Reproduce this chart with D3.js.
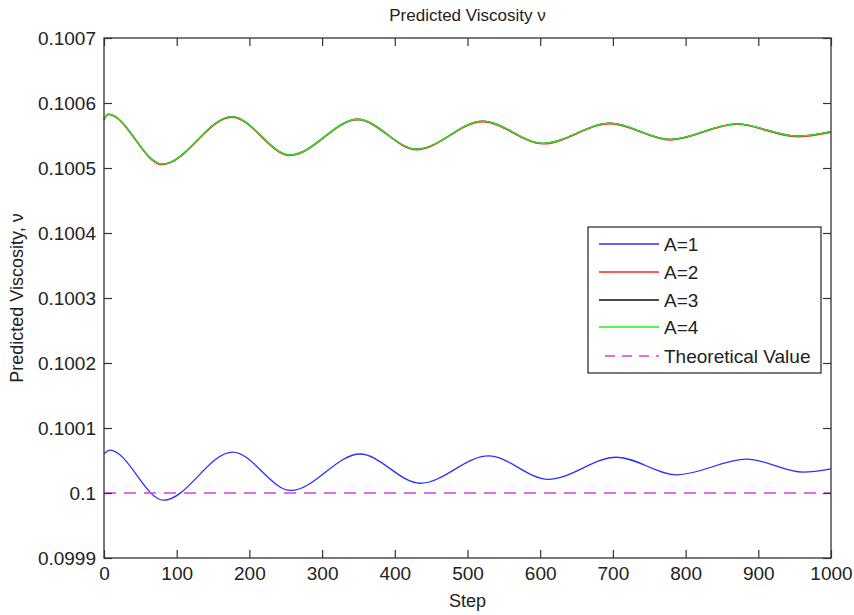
<!DOCTYPE html>
<html>
<head>
<meta charset="utf-8">
<script src="https://cdn.jsdelivr.net/npm/d3@7"></script>
<style>
  body { margin: 0; background: #fff; }
  text { font-family: "Liberation Sans", Arial, sans-serif; fill: #222; }
</style>
</head>
<body>
<div id="chart"></div>
<script>
// steps at peaks / troughs
const stepsA1 = [0, 8, 82, 177, 257, 352, 435, 529, 611, 705, 788, 884, 962, 1000];
const valuesA1 = [0.100060, 0.100066, 0.099989, 0.100063, 0.100004, 0.100060, 0.100015,
  0.100057, 0.100021, 0.100055, 0.100028, 0.100052, 0.100032, 0.100037];

const stepsA4 = [0, 6, 80, 176, 256, 349, 430, 521, 604, 696, 779, 870, 953, 1000];
const valuesA4 = [0.100575, 0.100583, 0.100506, 0.100579, 0.100520, 0.100575, 0.100529,
  0.100572, 0.100538, 0.100569, 0.100544, 0.100568, 0.100549, 0.100556];
// A=2 and A=3 sit right under A=4
const valuesA2 = [0.100574, 0.100582, 0.100505, 0.100578, 0.100519, 0.100574, 0.100528,
  0.100571, 0.100537, 0.100568, 0.100543, 0.100567, 0.100548, 0.100555];
const valuesA3 = valuesA4.slice();

const theoretical = 0.1;

const yTicks = [0.0999, 0.1, 0.1001, 0.1002, 0.1003, 0.1004, 0.1005, 0.1006, 0.1007];
const yTickLabels = ["0.0999", "0.1", "0.1001", "0.1002", "0.1003", "0.1004", "0.1005", "0.1006", "0.1007"];
const xTicks = [0, 100, 200, 300, 400, 500, 600, 700, 800, 900, 1000];

const series = [
  { name: "A=1", steps: stepsA1, values: valuesA1, color: "#2e2eff" },
  { name: "A=2", steps: stepsA4, values: valuesA2, color: "#ff2222" },
  { name: "A=3", steps: stepsA4, values: valuesA3, color: "#111111" },
  { name: "A=4", steps: stepsA4, values: valuesA4, color: "#22ee22" }
];

const width = 854, height = 615;
const margin = { left: 104, right: 23, top: 38, bottom: 57 };

const svg = d3.select("#chart").append("svg")
  .attr("width", width)
  .attr("height", height);

const x = d3.scaleLinear().domain([0, 1000]).range([margin.left, width - margin.right]);
const y = d3.scaleLinear().domain([0.0999, 0.1007]).range([height - margin.bottom, margin.top]);

// data lines
const line = d3.line()
  .x(d => x(d[0]))
  .y(d => y(d[1]))
  .curve(d3.curveMonotoneX);

// draw A=3 first so the others cover it, like the original
[series[2], series[1], series[3], series[0]].forEach(s => {
  svg.append("path")
    .datum(s.steps.map((st, i) => [st, s.values[i]]))
    .attr("d", line)
    .attr("fill", "none")
    .attr("stroke", s.color)
    .attr("stroke-width", 1.3);
});

svg.append("line")
  .attr("x1", x(0)).attr("x2", x(1000))
  .attr("y1", y(theoretical)).attr("y2", y(theoretical))
  .attr("stroke", "#cc44dd")
  .attr("stroke-width", 1.4)
  .attr("stroke-dasharray", "12,8");

// axes, ticks inside on all four sides
const tickLen = 8;
const axisColor = "#333";

svg.append("g")
  .attr("transform", `translate(0,${y(0.0999)})`)
  .call(d3.axisBottom(x).tickValues(xTicks).tickSize(-tickLen).tickPadding(9).tickFormat(d3.format("d")))
  .call(g => g.select(".domain").remove());

svg.append("g")
  .attr("transform", `translate(0,${y(0.1007)})`)
  .call(d3.axisTop(x).tickValues(xTicks).tickSize(-tickLen).tickFormat(""))
  .call(g => g.select(".domain").remove());

svg.append("g")
  .attr("transform", `translate(${x(0)},0)`)
  .call(d3.axisLeft(y).tickValues(yTicks).tickSize(-tickLen).tickPadding(8)
    .tickFormat((d, i) => yTickLabels[i]))
  .call(g => g.select(".domain").remove());

svg.append("g")
  .attr("transform", `translate(${x(1000)},0)`)
  .call(d3.axisRight(y).tickValues(yTicks).tickSize(-tickLen).tickFormat(""))
  .call(g => g.select(".domain").remove());

svg.selectAll(".tick line").attr("stroke", axisColor).attr("stroke-width", 1.2);
svg.selectAll(".tick text")
  .attr("font-size", 19)
  .attr("font-family", "Liberation Sans, Arial, sans-serif")
  .attr("fill", "#222");

svg.append("rect")
  .attr("x", x(0)).attr("y", y(0.1007))
  .attr("width", x(1000) - x(0))
  .attr("height", y(0.0999) - y(0.1007))
  .attr("fill", "none")
  .attr("stroke", axisColor)
  .attr("stroke-width", 1.3);

// titles
svg.append("text")
  .attr("x", (x(0) + x(1000)) / 2).attr("y", 21)
  .attr("text-anchor", "middle")
  .attr("font-size", 17)
  .text("Predicted Viscosity ν");

svg.append("text")
  .attr("x", (x(0) + x(1000)) / 2).attr("y", 607)
  .attr("text-anchor", "middle")
  .attr("font-size", 18)
  .text("Step");

svg.append("text")
  .attr("transform", `translate(23,${(y(0.0999) + y(0.1007)) / 2}) rotate(-90)`)
  .attr("text-anchor", "middle")
  .attr("font-size", 18)
  .text("Predicted Viscosity, ν");

// legend
const legendItems = series.map(s => ({ name: s.name, color: s.color, dash: null }))
  .concat([{ name: "Theoretical Value", color: "#cc44dd", dash: "10,7" }]);

const legend = svg.append("g").attr("transform", "translate(588,227)");
legend.append("rect")
  .attr("width", 233).attr("height", 146)
  .attr("fill", "#fff")
  .attr("stroke", axisColor)
  .attr("stroke-width", 1.3);

const rowY = [17, 45, 73, 100, 129];
legendItems.forEach((d, i) => {
  legend.append("line")
    .attr("x1", d.dash ? 17 : 11).attr("x2", 71)
    .attr("y1", rowY[i]).attr("y2", rowY[i])
    .attr("stroke", d.color)
    .attr("stroke-width", 1.4)
    .attr("stroke-dasharray", d.dash);
  legend.append("text")
    .attr("x", 76).attr("y", rowY[i] + 7)
    .attr("font-size", 19)
    .text(d.name);
});
</script>
</body>
</html>
